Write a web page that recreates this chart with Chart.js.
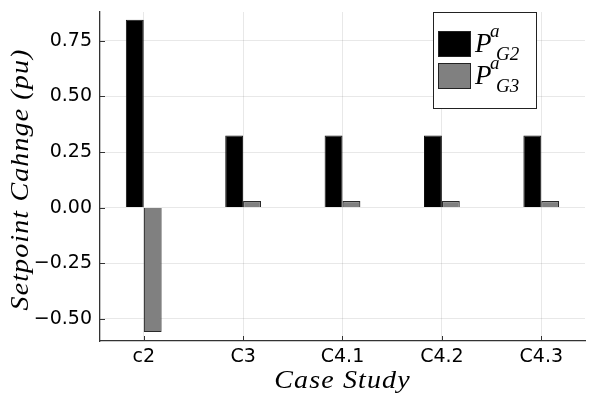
<!DOCTYPE html>
<html>
<head>
<title>Setpoint change</title>
<script src="https://cdn.jsdelivr.net/npm/chart.js"></script>
<style>
body { margin: 0; background: #fff; }
#wrap { width: 598px; height: 399px; }
</style>
</head>
<body>
<div id="wrap"><canvas id="myChart"></canvas></div>
<script>
// case studies and setpoint changes (pu)
const cases = ["c2", "C3", "C4.1", "C4.2", "C4.3"];
const pG2 = [0.845, 0.325, 0.325, 0.325, 0.325];
const pG3 = [-0.56, 0.03, 0.03, 0.03, 0.03];
const yTicks = [-0.5, -0.25, 0, 0.25, 0.5, 0.75];
const xTitle = "Case Study";
const yTitle = "Setpoint Cahnge (pu)";

const serif = "'Liberation Serif', 'DejaVu Serif', serif";
const sans = "'DejaVu Sans', sans-serif";

function minus(v) {
  return v.toFixed(2).replace("-", "\u2212");
}

// stretched italic serif to look like the LaTeX math font
function mathText(ctx, txt, x, y, rot) {
  ctx.save();
  ctx.translate(x, y);
  if (rot) ctx.rotate(-Math.PI / 2);
  ctx.scale(1.12, 1);
  ctx.font = "italic 25px " + serif;
  ctx.letterSpacing = "1px";
  ctx.textAlign = "center";
  ctx.textBaseline = "middle";
  ctx.fillStyle = "#000";
  ctx.fillText(txt, 0, 0);
  ctx.restore();
}

// inward ticks, axis titles and legend drawn by hand (Plots.jl look)
const extras = {
  id: "extras",
  afterDraw(chart) {
    const ctx = chart.ctx;
    const a = chart.chartArea;
    const xs = chart.scales.x, ys = chart.scales.y;
    ctx.save();
    ctx.strokeStyle = "#333";
    ctx.lineWidth = 1;
    ctx.beginPath();
    yTicks.forEach(t => {
      const py = Math.round(ys.getPixelForValue(t)) + 0.5;
      ctx.moveTo(a.left, py); ctx.lineTo(a.left + 5, py);
    });
    cases.forEach((c, i) => {
      const px = Math.round(xs.getPixelForValue(i)) + 0.5;
      ctx.moveTo(px, a.bottom); ctx.lineTo(px, a.bottom - 5);
    });
    ctx.stroke();

    mathText(ctx, xTitle, (a.left + a.right) / 2, a.bottom + 40, false);
    mathText(ctx, yTitle, 21, (a.top + a.bottom) / 2 + 3, true);

    // legend
    const bx = a.right - 152, by = a.top;
    ctx.fillStyle = "#fff";
    ctx.fillRect(bx, by, 103, 96);
    ctx.strokeStyle = "#222";
    ctx.strokeRect(bx + 0.5, by + 0.5, 103, 96);
    const sets = chart.data.datasets;
    sets.forEach((ds, k) => {
      const sy = by + 19 + k * 32;
      ctx.fillStyle = ds.backgroundColor;
      ctx.fillRect(bx + 5, sy, 33, 26);
      ctx.strokeStyle = "#222";
      ctx.strokeRect(bx + 5.5, sy + 0.5, 32, 25);
      ctx.fillStyle = "#000";
      ctx.textBaseline = "alphabetic";
      ctx.textAlign = "left";
      ctx.font = "italic 27px " + serif;
      ctx.fillText("P", bx + 42, sy + 21);
      ctx.font = "italic 19px " + serif;
      ctx.fillText("a", bx + 57, sy + 6);
      ctx.fillText(k === 0 ? "G2" : "G3", bx + 63, sy + 29);
    });
    ctx.restore();
  }
};

const config = {
  type: "bar",
  data: {
    datasets: [
      {
        label: "PG2",
        data: cases.map((c, i) => ({ x: i, y: pG2[i] })),
        backgroundColor: "#000000",
        borderColor: "#111111",
        borderWidth: 1
      },
      {
        label: "PG3",
        data: cases.map((c, i) => ({ x: i, y: pG3[i] })),
        backgroundColor: "#808080",
        borderColor: "#2a2a2a",
        borderWidth: 1.2
      }
    ]
  },
  options: {
    responsive: true,
    maintainAspectRatio: false,
    animation: false,
    layout: { padding: { left: 0, right: 13, top: 12, bottom: 0 } },
    datasets: { bar: { barPercentage: 1, categoryPercentage: 0.36, grouped: true } },
    plugins: { legend: { display: false }, tooltip: { enabled: false } },
    scales: {
      x: {
        type: "linear",
        offset: false,
        min: -0.44,
        max: 4.44,
        afterBuildTicks: s => { s.ticks = cases.map((c, i) => ({ value: i })); },
        afterFit: s => { s.height = 58; s.paddingLeft = 0; s.paddingRight = 0; },
        ticks: {
          callback: v => cases[v],
          color: "#000",
          font: { family: sans, size: 19 },
          padding: 5
        },
        grid: { color: "rgba(0,0,0,0.09)", drawTicks: false, offset: false },
        border: { color: "#333", width: 1.3 }
      },
      y: {
        min: -0.6,
        max: 0.88,
        afterBuildTicks: s => { s.ticks = yTicks.map(v => ({ value: v })); },
        afterFit: s => { s.width = 100; s.paddingTop = 0; s.paddingBottom = 0; },
        ticks: {
          callback: v => minus(v),
          color: "#000",
          font: { family: sans, size: 19 },
          padding: 8
        },
        grid: { color: "rgba(0,0,0,0.09)", drawTicks: false },
        border: { color: "#333", width: 1.3 }
      }
    }
  },
  plugins: [extras]
};

const myChart = new Chart(document.getElementById("myChart"), config);
</script>
</body>
</html>
